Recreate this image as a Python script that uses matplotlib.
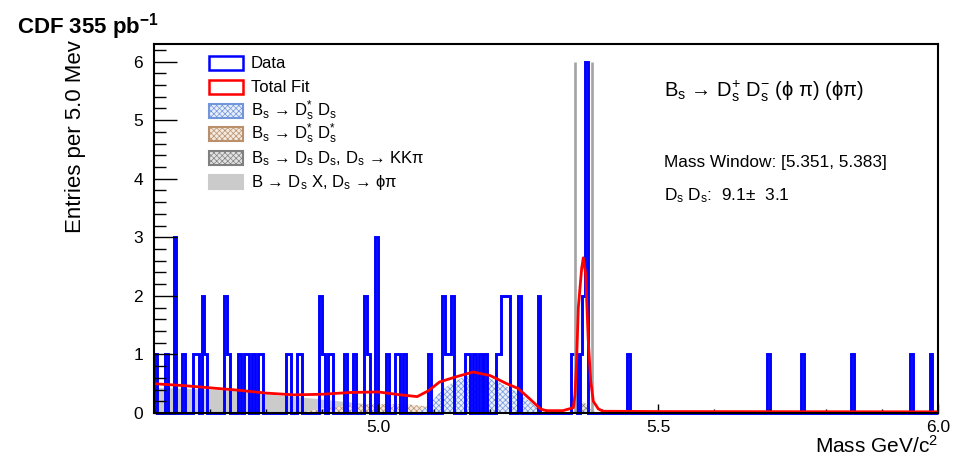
import numpy as np
import matplotlib
matplotlib.use("Agg")
import matplotlib.pyplot as plt
from matplotlib.patches import Rectangle
from matplotlib.ticker import MultipleLocator

plt.rcParams.update({
    "font.family": ["Liberation Sans", "DejaVu Sans"],
    "mathtext.fontset": "custom",
    "mathtext.rm": "Liberation Sans",
    "mathtext.it": "Liberation Sans",
    "mathtext.bf": "Liberation Sans:bold",
    "mathtext.fallback": "stixsans",
    "hatch.linewidth": 0.5,
})

# data: centres of the non-empty 5 MeV bins and their entries
data_mass = [4.6025, 4.6225, 4.6375, 4.6525, 4.6725, 4.6775, 4.6875, 4.6925,
             4.7275, 4.7325, 4.7525, 4.7625, 4.7675, 4.7775, 4.7875, 4.7925,
             4.8375, 4.8425, 4.8575, 4.8625, 4.8975, 4.9025, 4.9125, 4.9175,
             4.9425, 4.9575, 4.9775, 4.9825, 4.9975, 5.0175, 5.0325, 5.0375,
             5.0475, 5.0925, 5.1175, 5.1225, 5.1275, 5.1325, 5.1575, 5.1625,
             5.1725, 5.1825, 5.1925, 5.2125, 5.2175, 5.2225, 5.2275, 5.2325,
             5.2525, 5.2875, 5.3475, 5.3525, 5.3625, 5.3675, 5.3725, 5.4475,
             5.6975, 5.7575, 5.8475, 5.9525, 5.9875]
data_count = [1, 1, 3, 1, 1, 1, 2, 1,
              2, 1, 1, 1, 1, 1, 1, 1,
              1, 1, 1, 1, 2, 1, 1, 1,
              1, 1, 2, 1, 3, 1, 1, 1,
              1, 1, 2, 1, 1, 2, 1, 1,
              1, 1, 1, 1, 1, 2, 2, 2,
              2, 2, 1, 1, 1, 2, 6, 1,
              1, 1, 1, 1, 1]

# total fit
fit_mass = [4.60, 4.65, 4.70, 4.75, 4.80, 4.85, 4.90, 4.95, 5.00, 5.04,
            5.07, 5.09, 5.11, 5.14, 5.17, 5.20, 5.23, 5.25, 5.27, 5.29,
            5.30, 5.33, 5.345, 5.3488, 5.3518, 5.3548, 5.3577, 5.3637, 5.3666, 5.3709,
            5.3755, 5.3798, 5.3845, 5.3934, 5.402, 5.50, 6.00]
fit_val = [0.50, 0.47, 0.43, 0.39, 0.34, 0.31, 0.32, 0.35, 0.36, 0.31,
           0.28, 0.38, 0.53, 0.62, 0.70, 0.64, 0.50, 0.42, 0.25, 0.07,
           0.04, 0.04, 0.08, 0.09, 0.32, 0.94, 1.80, 2.47, 2.65, 2.37,
           1.23, 0.55, 0.20, 0.07, 0.03, 0.025, 0.02]

# B -> Ds X, Ds -> phi pi
dsx_mass = [4.60, 4.70, 4.77, 4.82, 4.88, 4.93, 4.98, 5.03, 5.07, 5.10, 5.12]
dsx_val = [0.43, 0.40, 0.36, 0.30, 0.25, 0.20, 0.15, 0.10, 0.05, 0.01, 0.0]

# Bs -> Ds* Ds*
dd2_mass = [4.86, 4.90, 4.95, 5.00, 5.05, 5.08, 5.12, 5.20, 5.28, 5.30]
dd2_val = [0.0, 0.08, 0.13, 0.15, 0.15, 0.12, 0.07, 0.05, 0.03, 0.0]

# Bs -> Ds* Ds
dd1_mass = [5.07, 5.09, 5.11, 5.13, 5.15, 5.17, 5.19, 5.21, 5.23, 5.25, 5.27, 5.285, 5.30]
dd1_val = [0.0, 0.12, 0.35, 0.50, 0.60, 0.65, 0.63, 0.55, 0.45, 0.35, 0.20, 0.08, 0.0]

# Bs -> Ds Ds, Ds -> KK pi
kkpi_mass = [5.345, 5.355, 5.362, 5.367, 5.372, 5.380, 5.390]
kkpi_val = [0.0, 0.06, 0.15, 0.19, 0.15, 0.06, 0.0]

window = [5.351, 5.383]

W, H = 966, 457
fig = plt.figure(figsize=(W / 100, H / 100), dpi=100)
ax = fig.add_axes([154 / W, 44 / H, 784 / W, 369 / H])

edges = np.linspace(4.6, 6.0, 281)
counts, _ = np.histogram(data_mass, bins=edges, weights=data_count)

ax.fill_between(dsx_mass, dsx_val, facecolor="#cbcbcb", lw=0)
ax.fill_between(dd2_mass, dd2_val, facecolor="#f3e9df", edgecolor="#b98f6c", hatch="xxxxxx", lw=0)
ax.fill_between(dd1_mass, dd1_val, facecolor="#e8eefa", edgecolor="#7196dc", hatch="xxxxxx", lw=0)
ax.fill_between(kkpi_mass, kkpi_val, facecolor="#e2e2e2", edgecolor="#808080", hatch="xxxxxx", lw=0)
ax.vlines(window, 0, 6, color="#a3a3a3", lw=1.9)
ax.stairs(counts, edges, color="blue", lw=2.1, clip_on=False)
ax.plot(fit_mass, fit_val, color="red", lw=2.0)

ax.set_xlim(4.6, 6.0)
ax.set_ylim(0, 6.3)
ax.set_xticks([5.0, 5.5, 6.0])
ax.set_xticklabels(["5.0", "5.5", "6.0"])
ax.xaxis.set_minor_locator(MultipleLocator(0.1))
ax.yaxis.set_major_locator(MultipleLocator(1))
ax.yaxis.set_minor_locator(MultipleLocator(0.2))
ax.tick_params(direction="in", which="both", top=False, right=False, width=1.0, labelsize=12.5)
ax.tick_params(axis="y", which="major", length=16.5, pad=8)
ax.tick_params(axis="y", which="minor", length=8.5)
ax.tick_params(axis="x", which="major", length=6.5, pad=5)
ax.tick_params(axis="x", which="minor", length=3)
for s in ax.spines.values():
    s.set_linewidth(1.5)

# legend drawn by hand, one row per component
entries = [
    ("Data", dict(facecolor="white", edgecolor="blue", lw=1.8)),
    ("Total Fit", dict(facecolor="white", edgecolor="red", lw=1.8)),
    (r"B$_\mathregular{s}$ → D$^\mathregular{*}_\mathregular{s}$ D$_\mathregular{s}$",
     dict(facecolor="#e8eefa", edgecolor="#7196dc", hatch="xxxxxx", lw=1.5)),
    (r"B$_\mathregular{s}$ → D$^\mathregular{*}_\mathregular{s}$ D$^\mathregular{*}_\mathregular{s}$",
     dict(facecolor="#f3e9df", edgecolor="#b98f6c", hatch="xxxxxx", lw=1.5)),
    (r"B$_\mathregular{s}$ → D$_\mathregular{s}$ D$_\mathregular{s}$, D$_\mathregular{s}$ → KKπ",
     dict(facecolor="#e2e2e2", edgecolor="#808080", hatch="xxxxxx", lw=1.5)),
    (r"B → D$_\mathregular{s}$ X, D$_\mathregular{s}$ → ϕπ",
     dict(facecolor="#cbcbcb", edgecolor="#cbcbcb", lw=1.5)),
]
for k, (label, style) in enumerate(entries):
    yc = 63.3 + 23.7 * k
    fig.add_artist(Rectangle((209 / W, 1 - (yc + 7) / H), 34 / W, 14 / H,
                             transform=fig.transFigure, **style))
    fig.text(251 / W, 1 - (yc + 5) / H, label, fontsize=12, va="baseline")

fig.text(17 / W, 1 - 33 / H, r"CDF 355 pb$^{\mathbf{-1}}$", fontsize=16,
         weight="bold", va="baseline")
fig.text(664 / W, 1 - 97 / H,
         r"B$_\mathregular{s}$ → D$_\mathregular{s}^\mathregular{+}$ D$_\mathregular{s}^\mathregular{-}$ (ϕ π) (ϕπ)",
         fontsize=14.5, va="baseline")
fig.text(664 / W, 1 - 167 / H, "Mass Window: [5.351, 5.383]", fontsize=12.4, va="baseline")
fig.text(664 / W, 1 - 200 / H, r"D$_\mathregular{s}$ D$_\mathregular{s}$:  9.1±  3.1",
         fontsize=12.4, va="baseline")

fig.text(75 / W, 1 - 40 / H, "Entries per 5.0 Mev", rotation=90, fontsize=16,
         ha="center", va="top")
fig.text(938 / W, 1 - 453 / H, r"Mass GeV/c$^\mathregular{2}$", fontsize=15,
         ha="right", va="baseline")

fig.savefig("out.png", dpi=100)
